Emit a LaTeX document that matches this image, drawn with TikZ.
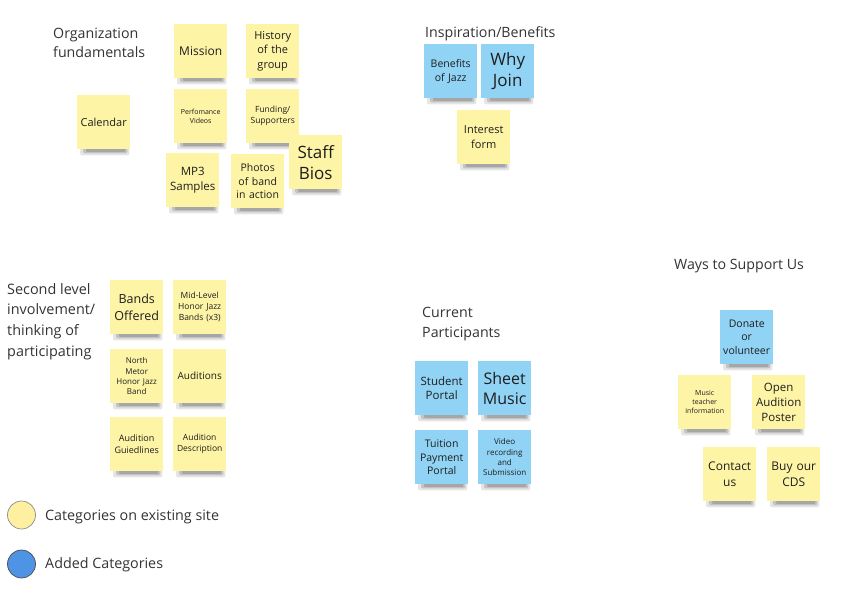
\documentclass[tikz,border=0pt]{standalone}
\usepackage{fontspec}
\setmainfont{Open Sans}
\usetikzlibrary{backgrounds}
\definecolor{ynote}{HTML}{FDF4A6}
\definecolor{bnote}{HTML}{91D3F5}
\definecolor{ttl}{HTML}{333333}
\definecolor{ntxt}{HTML}{1E1E1E}
\definecolor{lgy}{HTML}{FFEFA0}
\definecolor{lgb}{HTML}{4F93E4}
\newcommand\fs[1]{\fontsize{#1}{\dimexpr #1pt*13/10\relax}\selectfont}
\tikzset{
  stick/.style={anchor=north west, minimum width=53pt, minimum height=54pt, inner sep=1pt,
    text width=51pt, align=center, text=ntxt},
  ystick/.style={stick, fill=ynote},
  bstick/.style={stick, fill=bnote},
  title/.style={anchor=west, align=left, text=ttl, font=\fontsize{14.2}{19.5}\selectfont, inner sep=0pt},
}
\begin{document}
\begin{tikzpicture}[x=1pt,y=-1pt]
\useasboundingbox (0,0) rectangle (856,602);
% titles
\node[title, anchor=north west] (t1) at (53,27.5) {Organization\\fundamentals};
\node[title] (t2) at (425,33.5) {Inspiration/Benefits};
\node[title, anchor=north west, font=\fontsize{14.4}{20.7}\selectfont] (t3) at (7,283) {Second level\\involvement/\\thinking of\\participating};
\node[title, anchor=north west, font=\fontsize{14.2}{20}\selectfont] (t4) at (422,307.5) {Current\\Participants};
\node[title] (t5) at (674,266.5) {Ways to Support Us};
% notes
\node[ystick, font=\fs{12}] (mission) at (174,24) {Mission};
\node[ystick, font=\fs{11}] (history) at (246,24) {History\\of the\\group};
\node[ystick, font=\fs{11}] (calendar) at (77,95) {Calendar};
\node[ystick, font=\fs{7}] (perf) at (174,89) {Perfomance\\Videos};
\node[ystick, font=\fs{8.5}] (funding) at (246,89) {Funding/\\Supporters};
\node[ystick, font=\fs{11.5}] (mp3) at (166,153) {MP3\\Samples};
\node[ystick, font=\fs{10.5}] (photos) at (231,154) {Photos\\of band\\in action};
\node[ystick, font=\fontsize{17}{21}\selectfont] (staff) at (289,135) {Staff\\Bios};
\node[bstick, font=\fs{10.5}] (benefits) at (424,44) {Benefits\\of Jazz};
\node[bstick, font=\fontsize{17}{21}\selectfont] (why) at (481,44) {Why\\Join};
\node[ystick, font=\fs{11}] (interest) at (457,110) {Interest\\form};
\node[ystick, font=\fs{12.5}] (bands) at (110,280) {Bands\\Offered};
\node[ystick, font=\fs{8.5}] (midlevel) at (173,280) {Mid-Level\\Honor Jazz\\Bands (x3)};
\node[ystick, font=\fs{8}] (north) at (110,349) {North\\Metor\\Honor Jazz\\Band};
\node[ystick, font=\fs{10}] (auditions) at (173,349) {Auditions};
\node[ystick, font=\fs{9}] (guide) at (110,417) {Audition\\Guiedlines};
\node[ystick, font=\fs{8.5}] (desc) at (173,417) {Audition\\Description};
\node[bstick, font=\fs{11.5}] (student) at (415,361) {Student\\Portal};
\node[bstick, font=\fontsize{16}{20}\selectfont] (sheet) at (478,361) {Sheet\\Music};
\node[bstick, font=\fs{10.5}] (tuition) at (415,430) {Tuition\\Payment\\Portal};
\node[bstick, font=\fs{8}] (video) at (478,430) {Video\\recording\\and\\Submission};
\node[bstick, font=\fs{10.5}] (donate) at (720,310) {Donate\\or\\volunteer};
\node[ystick, font=\fs{7}] (music) at (678,375) {Music\\teacher\\information};
\node[ystick, font=\fs{11.5}] (open) at (752,375) {Open\\Audition\\Poster};
\node[ystick, font=\fs{12}] (contact) at (703,447) {Contact\\us};
\node[ystick, font=\fs{12}] (buy) at (767,447) {Buy our\\CDS};
% shadows
\begin{scope}[on background layer]
\foreach \n in {mission,history,calendar,perf,funding,mp3,photos,staff,benefits,why,interest,bands,midlevel,north,auditions,guide,desc,student,sheet,tuition,video,donate,music,open,contact,buy}{
  \fill[black, opacity=0.10, rounded corners=2pt] ([xshift=3pt,yshift=2pt]\n.south west) rectangle ([xshift=-1pt,yshift=-6pt]\n.south east);
  \fill[black, opacity=0.15, rounded corners=2pt] ([xshift=6pt,yshift=2pt]\n.south west) rectangle ([xshift=-3pt,yshift=-4pt]\n.south east);
  \fill[black, opacity=0.15, rounded corners=1pt] ([xshift=9pt,yshift=2pt]\n.south west) rectangle ([xshift=-5pt,yshift=-2.5pt]\n.south east);
}
\end{scope}
% legend
\node[circle, minimum size=28pt, inner sep=0pt, fill=lgy, draw=black!45, line width=0.7pt] (ly) at (21.5,515) {};
\node[circle, minimum size=28pt, inner sep=0pt, fill=lgb, draw=black!70, line width=0.7pt] (lb) at (21.5,564) {};
\node[title, font=\fontsize{14.3}{17}\selectfont] (lyt) at (45,516.5) {Categories on existing site};
\node[title, font=\fontsize{14.3}{17}\selectfont] (lbt) at (45,565) {Added Categories};
\end{tikzpicture}
\end{document}
